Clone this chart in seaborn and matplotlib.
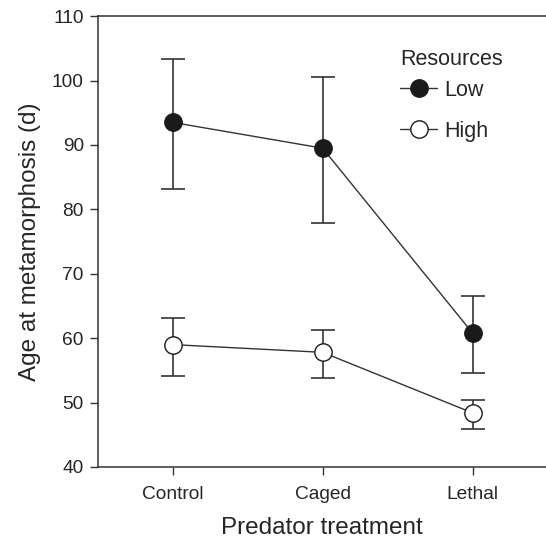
import matplotlib
matplotlib.use("Agg")
import matplotlib.pyplot as plt
from matplotlib.lines import Line2D
import seaborn as sns
import pandas as pd
import numpy as np

treatments = ["Control", "Caged", "Lethal"]
resources = ["Low", "High"]
low_mean = [93.5, 89.5, 60.8]
low_upper = [103.3, 100.5, 66.5]
low_lower = [83.2, 77.9, 54.6]
high_mean = [59.0, 57.8, 48.4]
high_upper = [63.2, 61.2, 50.4]
high_lower = [54.2, 53.8, 45.9]
yticks = [40, 50, 60, 70, 80, 90, 100, 110]

sns.set_theme(style="ticks")
plt.rcParams["font.family"] = ["Liberation Sans", "DejaVu Sans"]

df = pd.DataFrame({
    "treatment": treatments * 2,
    "resources": ["Low"] * 3 + ["High"] * 3,
    "age": low_mean + high_mean,
    "upper": low_upper + high_upper,
    "lower": low_lower + high_lower,
})
df["pos"] = pd.Categorical(df["treatment"], categories=treatments).codes

fig = plt.figure(figsize=(5.46, 5.38), dpi=100)
ax = fig.add_axes([0.179, 0.132, 0.821, 0.838])

faces = {"Low": "#1a1a1a", "High": "white"}
for res in resources:
    sub = df[df["resources"] == res]
    ax.errorbar(sub["pos"], sub["age"],
                yerr=[sub["age"] - sub["lower"], sub["upper"] - sub["age"]],
                fmt="none", ecolor="#333333", elinewidth=1.2, capsize=8.5,
                capthick=1.2, zorder=1)
    sns.lineplot(data=sub, x="pos", y="age", ax=ax, color="#333333",
                 linewidth=1.0, marker="o", markersize=12.5,
                 markerfacecolor=faces[res], markeredgecolor="#1a1a1a",
                 markeredgewidth=1.0, zorder=3, legend=False)

ax.set_xlim(-0.5, 2.49)
ax.set_ylim(40, 110)
ax.set_yticks(yticks)
ax.set_xticks(range(len(treatments)))
ax.set_xticklabels(treatments)
ax.tick_params(axis="both", labelsize=13.8, length=6, width=1.0,
               color="#333333", direction="out", pad=4)
ax.tick_params(axis="x", pad=8)
ax.set_xlabel("Predator treatment", fontsize=17.5, labelpad=10)
ax.set_ylabel("Age at metamorphosis (d)", fontsize=17.5, labelpad=8)
for s in ["left", "bottom", "top"]:
    ax.spines[s].set_color("#333333")
    ax.spines[s].set_linewidth(1.1)
ax.spines["right"].set_visible(False)

handles = [Line2D([], [], color="#333333", linewidth=1.0, marker="o",
                  markersize=12.5, markerfacecolor=faces[r],
                  markeredgecolor="#1a1a1a", markeredgewidth=1.0)
           for r in resources]
leg = ax.legend(handles, resources, title="Resources", frameon=False,
                loc="upper left", bbox_to_anchor=(0.632, 0.969),
                fontsize=15.5, title_fontsize=15.5, handlelength=1.7,
                handletextpad=0.35, labelspacing=0.95)
leg._legend_box.align = "left"
leg._legend_box.sep = 6.5
leg._legend_handle_box.get_children()[0].pad = 0

fig.savefig("out.png", dpi=100)
